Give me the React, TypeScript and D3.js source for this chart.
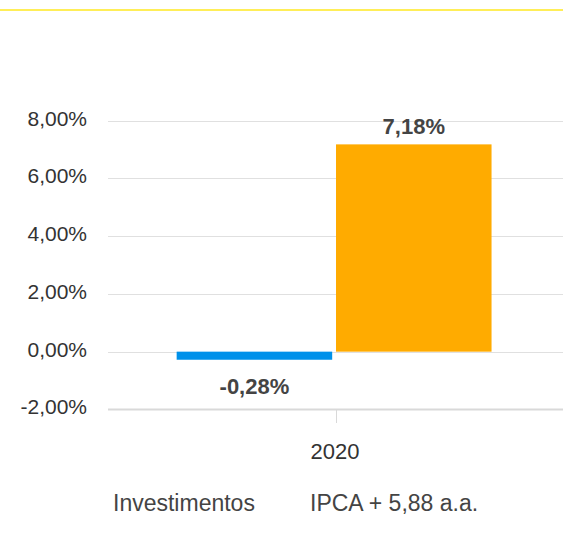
import React from "react";
import * as d3 from "d3";

const categories = ["2020"];
const seriesNames = ["Investimentos", "IPCA + 5,88 a.a."];
const seriesColors = ["#0091ea", "#ffab00"];
const investimentos = [-0.28];
const ipca = [7.18];
const yTicks = [-2, 0, 2, 4, 6, 8];

const W = 563;
const H = 545;
const FONT = "'Liberation Sans', Arial, Helvetica, sans-serif";

const fmt = (v: number) => v.toFixed(2).replace(".", ",") + "%";

export default function App() {
  const x0 = d3
    .scaleBand<string>()
    .domain(categories)
    .range([108, 563])
    .paddingInner(0.182)
    .paddingOuter(0.182)
    .align(0.49);
  const x1 = d3.scaleBand<string>().domain(seriesNames).range([0, x0.bandwidth()]).paddingInner(0.024);
  const y = d3.scaleLinear().domain([-2, 8]).range([409.4, 120.7]);

  const seriesValues = [investimentos, ipca];

  return (
    <svg width={W} height={H} style={{ position: "absolute", left: 0, top: 0, background: "#fff" }} fontFamily={FONT}>
      <rect x={0} y={9} width={W} height={2} fill="#ffee58" />
      {yTicks.map((t) => (
        <g key={t}>
          <line
            x1={108}
            x2={563}
            y1={Math.round(y(t)) + 0.5}
            y2={Math.round(y(t)) + 0.5}
            stroke={t === -2 ? "#d9d9d9" : "#e0e0e0"}
            strokeWidth={t === -2 ? 2 : 1.2}
          />
          <text x={87} y={y(t) + 5} textAnchor="end" fontSize={21} fill="#333">
            {fmt(t)}
          </text>
        </g>
      ))}
      {categories.map((c) => (
        <g key={c}>
          <line x1={336.5} x2={336.5} y1={y(-2)} y2={423} stroke="#d9d9d9" strokeWidth={1} />
          <text x={335} y={459} textAnchor="middle" fontSize={22} fill="#333">
            {c}
          </text>
        </g>
      ))}
      {categories.map((c, ci) =>
        seriesNames.map((s, si) => {
          const v = seriesValues[si][ci];
          const bx = x0(c)! + x1(s)!;
          const top = y(Math.max(0, v));
          const bot = y(Math.min(0, v));
          const cx = bx + x1.bandwidth() / 2;
          return (
            <g key={c + s}>
              <rect x={bx} y={top} width={x1.bandwidth()} height={bot - top} fill={seriesColors[si]} />
              <text
                x={cx}
                y={v >= 0 ? top - 10.5 : bot + 34.3}
                textAnchor="middle"
                fontSize={22}
                fontWeight="bold"
                fill="#444"
              >
                {fmt(v)}
              </text>
            </g>
          );
        })
      )}
      <text x={113} y={510.7} fontSize={23} fill="#444">
        {seriesNames[0]}
      </text>
      <text x={310} y={510.7} fontSize={23} fill="#444">
        {seriesNames[1]}
      </text>
    </svg>
  );
}
